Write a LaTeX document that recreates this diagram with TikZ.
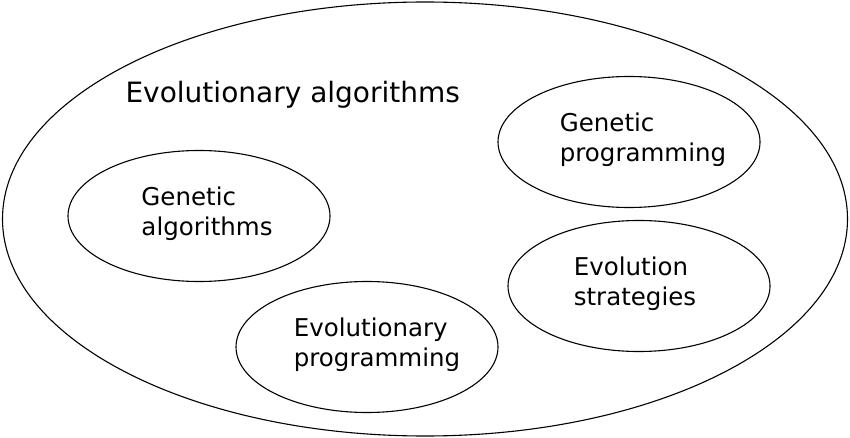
\documentclass[tikz,border=0pt]{standalone}
\usepackage{fontspec}
\setmainfont{DejaVu Sans}
\usepackage{tikz}
\usetikzlibrary{shapes.geometric,positioning}

\begin{document}
\begin{tikzpicture}[x=1pt,y=-1pt,line width=1.1pt,
  blob/.style={ellipse,draw,minimum width=262pt,minimum height=131pt,inner sep=0pt},
  famtext/.style={align=left,inner sep=0pt,font=\fontsize{24.5}{30}\selectfont}]
  \useasboundingbox (0,0) rectangle (850,438);
  % outer set
  \node[ellipse,draw,minimum width=845pt,minimum height=434pt,inner sep=0pt] (ea) at (425,219) {};
  \node[anchor=base west,inner sep=0pt,font=\fontsize{28}{33}\selectfont] (eaText) at (125,103) {Evolutionary algorithms};
  % the four families
  \coordinate (pGA) at (199,216);
  \coordinate (pGP) at (629,142);
  \coordinate (pES) at (639,286);
  \coordinate (pEP) at (367,347);
  \node[blob] (ga) at (pGA) {};
  \node[blob] (gp) at (pGP) {};
  \node[blob] (es) at (pES) {};
  \node[blob] (ep) at (pEP) {};
  \node[famtext] (gaText) at ([xshift=8pt,yshift=2pt]ga) {Genetic\\algorithms};
  \node[famtext] (gpText) at ([xshift=14pt,yshift=2pt]gp) {Genetic\\programming};
  \node[famtext] (esText) at ([xshift=-4pt,yshift=2pt]es) {Evolution\\strategies};
  \node[famtext] (epText) at ([xshift=10pt,yshift=2pt]ep) {Evolutionary\\programming};
\end{tikzpicture}
\end{document}
